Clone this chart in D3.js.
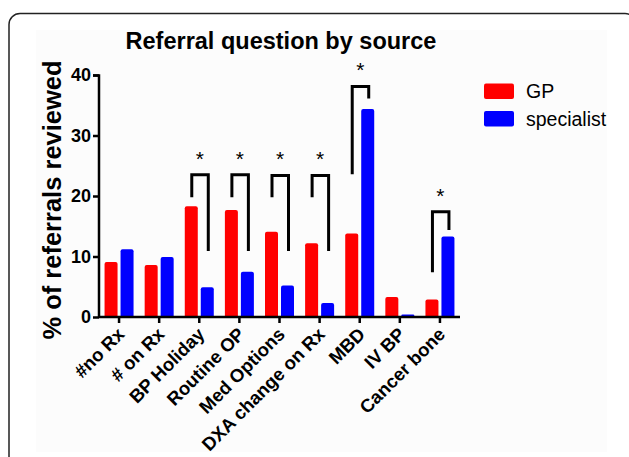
<!DOCTYPE html>
<html>
<head>
<meta charset="utf-8">
<script src="https://cdn.jsdelivr.net/npm/d3@7"></script>
<style>
    body { margin: 0; background: #fff; }
    svg { display: block; font-family: Arial, "Liberation Sans", sans-serif; }
</style>
</head>
<body>
<div id="bar-chart"></div>
<script>
const categories = ["#no Rx", "# on Rx", "BP Holiday", "Routine OP", "Med Options",
    "DXA change on Rx", "MBD", "IV BP", "Cancer bone"];
const gpValues = [9.1, 8.6, 18.3, 17.7, 14.1, 12.2, 13.8, 3.3, 2.9];
const specialistValues = [11.2, 9.9, 4.9, 7.5, 5.2, 2.3, 34.4, 0.4, 13.3];
const seriesNames = ["GP", "specialist"];
const yTicks = [0, 10, 20, 30, 40];

// significance brackets: top of bracket, end of GP leg, end of specialist leg
const brackets = [
    { category: "BP Holiday", top: 23.5, left: 19.8, right: 10.9 },
    { category: "Routine OP", top: 23.5, left: 19.8, right: 10.9 },
    { category: "Med Options", top: 23.4, left: 19.8, right: 10.9 },
    { category: "DXA change on Rx", top: 23.4, left: 19.8, right: 10.9 },
    { category: "MBD", top: 38.1, left: 23.6, right: 36.1 },
    { category: "Cancer bone", top: 17.4, left: 7.4, right: 14.4 }
];

const width = 629;
const height = 457;
const colors = { GP: "#ff0000", specialist: "#0000ff" };

const svg = d3.select("#bar-chart")
    .append("svg")
    .attr("width", width)
    .attr("height", height);

// panel frame
svg.append("rect")
    .attr("x", 36).attr("y", 30)
    .attr("width", 571).attr("height", 422)
    .attr("fill", "#fcfcfc");

svg.append("rect")
    .attr("x", 9).attr("y", 13.5)
    .attr("width", 627).attr("height", 470)
    .attr("rx", 11)
    .attr("fill", "none")
    .attr("stroke", "#222")
    .attr("stroke-width", 1.5);

const xScale = d3.scaleBand()
    .domain(categories)
    .range([99, 460])
    .padding(0);

const yScale = d3.scaleLinear()
    .domain([0, 40])
    .range([317, 75]);

const data = categories.map((c, i) => ({
    category: c,
    values: [
        { series: "GP", value: gpValues[i] },
        { series: "specialist", value: specialistValues[i] }
    ]
}));

const barWidth = 13;
const barOffset = { GP: -14.5, specialist: 1.5 };

const groups = svg.selectAll(".group")
    .data(data)
    .join("g")
    .attr("class", "group")
    .attr("transform", d => `translate(${xScale(d.category) + xScale.bandwidth() / 2}, 0)`);

groups.selectAll("path")
    .data(d => d.values)
    .join("path")
    .attr("fill", d => colors[d.series])
    .attr("d", d => {
        const x0 = barOffset[d.series];
        const y0 = yScale(0);
        const y1 = yScale(d.value);
        const r = Math.min(2, (y0 - y1) / 2);
        return `M${x0},${y0} V${y1 + r} Q${x0},${y1} ${x0 + r},${y1} H${x0 + barWidth - r} Q${x0 + barWidth},${y1} ${x0 + barWidth},${y1 + r} V${y0} Z`;
    });

// axes
const leftAxis = d3.axisLeft(yScale)
    .tickValues(yTicks)
    .tickSize(6)
    .tickPadding(2);

const yAxis = svg.append("g")
    .attr("transform", "translate(99, 0)")
    .call(leftAxis);

yAxis.select(".domain").attr("stroke-width", 2.5).attr("d", "M-6,75.5H0V317");
yAxis.selectAll(".tick line").attr("stroke-width", 2.5);
yAxis.selectAll(".tick text")
    .style("font-size", "18px")
    .style("font-weight", "bold")
    .attr("fill", "#000");

const bottomAxis = d3.axisBottom(xScale)
    .tickSize(6)
    .tickFormat("");

const xAxis = svg.append("g")
    .attr("transform", "translate(0, 317)")
    .call(bottomAxis);

xAxis.select(".domain").attr("stroke-width", 2.5).attr("d", "M99,0H460");
xAxis.selectAll(".tick line").attr("stroke-width", 2.5);

svg.selectAll(".x-label")
    .data(categories)
    .join("text")
    .attr("class", "x-label")
    .attr("transform", d => `translate(${xScale(d) + xScale.bandwidth() / 2 + 3}, 332) rotate(-45)`)
    .attr("text-anchor", "end")
    .attr("dominant-baseline", "middle")
    .style("font-size", "18.5px")
    .style("font-weight", "bold")
    .text(d => d);

// significance brackets
const legX = { left: -7.5, right: 9 };
const bracketGroups = svg.selectAll(".bracket")
    .data(brackets)
    .join("g")
    .attr("class", "bracket")
    .attr("transform", d => `translate(${xScale(d.category) + xScale.bandwidth() / 2}, 0)`);

bracketGroups.append("path")
    .attr("fill", "none")
    .attr("stroke", "#000")
    .attr("stroke-width", 3)
    .attr("d", d => `M${legX.left},${yScale(d.left)} V${yScale(d.top)} H${legX.right} V${yScale(d.right)}`);

bracketGroups.append("text")
    .attr("x", 0.5)
    .attr("y", d => yScale(d.top) - 9)
    .attr("text-anchor", "middle")
    .style("font-size", "21px")
    .text("*");

// titles
svg.append("text")
    .attr("x", 281)
    .attr("y", 49)
    .attr("text-anchor", "middle")
    .style("font-size", "23.5px")
    .style("font-weight", "bold")
    .text("Referral question by source");

svg.append("text")
    .attr("transform", "translate(61, 200) rotate(-90)")
    .attr("text-anchor", "middle")
    .style("font-size", "25.5px")
    .style("font-weight", "bold")
    .text("% of referrals reviewed");

// legend
const legend = svg.selectAll(".legend")
    .data(seriesNames)
    .join("g")
    .attr("class", "legend")
    .attr("transform", (d, i) => `translate(484, ${83.5 + i * 27.5})`);

legend.append("rect")
    .attr("width", 30)
    .attr("height", 15.5)
    .attr("rx", 2)
    .attr("fill", d => colors[d]);

legend.append("text")
    .attr("x", 42)
    .attr("y", 14.5)
    .style("font-size", "19.5px")
    .text(d => d);
</script>
</body>
</html>
